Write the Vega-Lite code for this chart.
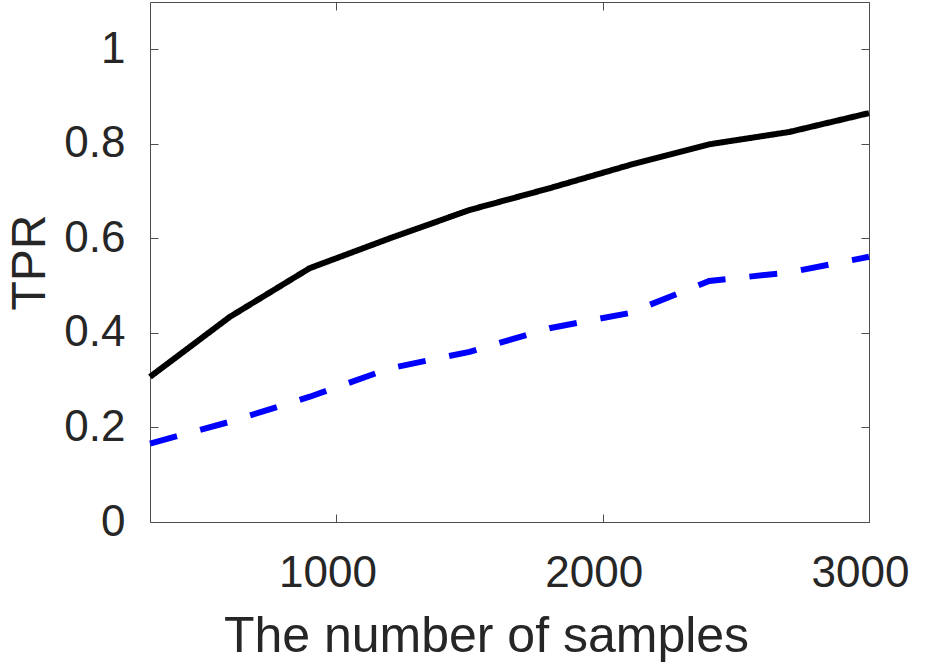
{
  "$schema": "https://vega.github.io/schema/vega-lite/v6.json",
  "description": "TPR against the number of samples",
  "width": 719,
  "height": 520,
  "autosize": {"type": "none"},
  "padding": {"left": 150, "top": 2, "right": 56, "bottom": 143},
  "data": {
    "values": [
      {"n": 300, "tpr": 0.307, "method": "A"},
      {"n": 600, "tpr": 0.434, "method": "A"},
      {"n": 900, "tpr": 0.537, "method": "A"},
      {"n": 1200, "tpr": 0.600, "method": "A"},
      {"n": 1500, "tpr": 0.660, "method": "A"},
      {"n": 1800, "tpr": 0.706, "method": "A"},
      {"n": 2100, "tpr": 0.755, "method": "A"},
      {"n": 2400, "tpr": 0.799, "method": "A"},
      {"n": 2700, "tpr": 0.825, "method": "A"},
      {"n": 3000, "tpr": 0.865, "method": "A"},
      {"n": 300, "tpr": 0.166, "method": "B"},
      {"n": 600, "tpr": 0.212, "method": "B"},
      {"n": 900, "tpr": 0.265, "method": "B"},
      {"n": 1200, "tpr": 0.325, "method": "B"},
      {"n": 1500, "tpr": 0.360, "method": "B"},
      {"n": 1800, "tpr": 0.410, "method": "B"},
      {"n": 2100, "tpr": 0.442, "method": "B"},
      {"n": 2400, "tpr": 0.510, "method": "B"},
      {"n": 2700, "tpr": 0.528, "method": "B"},
      {"n": 3000, "tpr": 0.561, "method": "B"}
    ]
  },
  "config": {
    "view": {"stroke": "#4d4d4d", "strokeWidth": 1},
    "axis": {
      "domain": false,
      "grid": false,
      "tickColor": "#4d4d4d",
      "tickSize": -8,
      "tickWidth": 1,
      "labelFont": "Liberation Sans",
      "labelFontSize": 44,
      "labelColor": "#262626",
      "titleFont": "Liberation Sans",
      "titleFontSize": 50,
      "titleFontWeight": "normal",
      "titleColor": "#262626"
    }
  },
  "resolve": {"axis": {"x": "independent", "y": "independent"}},
  "layer": [
    {
      "mark": {"type": "line", "strokeWidth": 6},
      "encoding": {
        "x": {
          "field": "n",
          "type": "quantitative",
          "scale": {"domain": [300, 3000], "nice": false, "zero": false},
          "axis": {
            "orient": "bottom",
            "values": [1000, 2000, 3000],
            "format": "d",
            "labelFlush": false,
            "labelOffset": -9,
            "labelPadding": 37,
            "title": "The number of samples",
            "titleX": 336,
            "titlePadding": 16
          }
        },
        "y": {
          "field": "tpr",
          "type": "quantitative",
          "scale": {"domain": [0, 1.1], "nice": false},
          "axis": {
            "orient": "left",
            "values": [0, 0.2, 0.4, 0.6, 0.8, 1],
            "format": "~g",
            "labelPadding": 33,
            "title": "TPR",
            "titleFontSize": 48,
            "titleX": -106,
            "titleBaseline": "alphabetic"
          }
        },
        "color": {
          "field": "method",
          "type": "nominal",
          "scale": {"domain": ["A", "B"], "range": ["#000000", "#0000ff"]},
          "legend": null
        },
        "strokeDash": {
          "field": "method",
          "type": "nominal",
          "scale": {"domain": ["A", "B"], "range": [[1, 0], [28, 24]]},
          "legend": null
        }
      }
    },
    {
      "mark": {"type": "line", "opacity": 0},
      "encoding": {
        "x": {
          "field": "n",
          "type": "quantitative",
          "axis": {"orient": "top", "values": [1000, 2000, 3000], "labels": false, "title": null}
        },
        "y": {
          "field": "tpr",
          "type": "quantitative",
          "axis": {"orient": "right", "values": [0, 0.2, 0.4, 0.6, 0.8, 1], "labels": false, "title": null}
        },
        "detail": {"field": "method", "type": "nominal"}
      }
    }
  ]
}
